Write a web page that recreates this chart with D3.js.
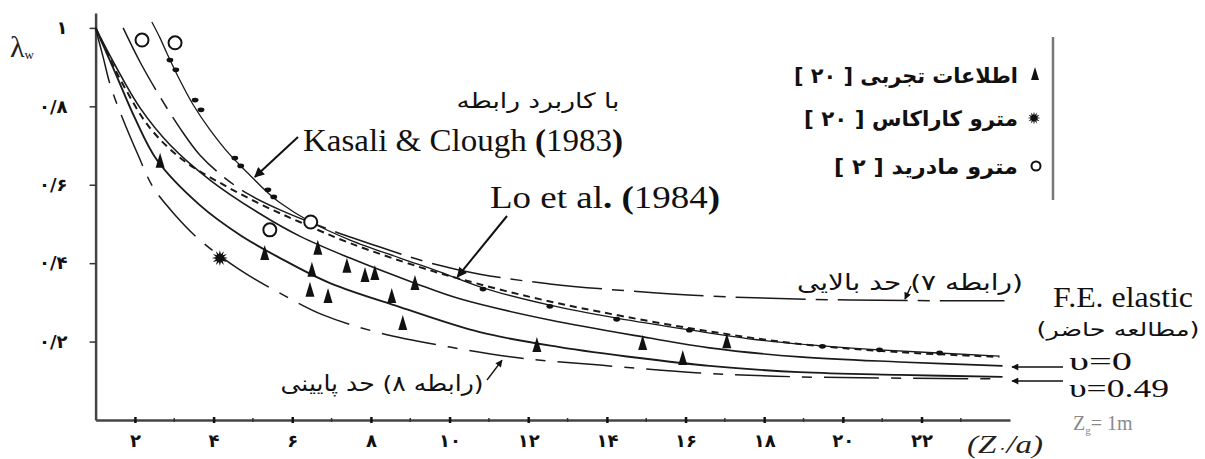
<!DOCTYPE html>
<html>
<head>
<meta charset="utf-8">
<style>
  body { margin: 0; background: #fff; }
  svg { display: block; }
  .fa { font-family: "DejaVu Sans", sans-serif; }
  .en { font-family: "Liberation Serif", "DejaVu Serif", serif; }
</style>
</head>
<body>
<script src="https://cdn.jsdelivr.net/npm/d3@7"></script>
<script>
// ---- values: [Z0/a, lambda] ----
const xTicks = [2, 4, 6, 8, 10, 12, 14, 16, 18, 20, 22];
const xTickLabels = ["۲", "۴", "۶", "۸", "۱۰", "۱۲", "۱۴", "۱۶", "۱۸", "۲۰", "۲۲"];
const yTicks = [0.2, 0.4, 0.6, 0.8, 1];
const yTickLabels = ["۰/۲", "۰/۴", "۰/۶", "۰/۸", "۱"];

// upper bound (relation 7), long dashes
const upperBound = [[1.70, 1.0], [2.13, 0.913], [2.64, 0.824], [3.14, 0.745], [3.65, 0.676],
  [4.29, 0.617], [4.92, 0.574], [5.69, 0.536], [6.96, 0.485], [8.23, 0.441], [9.42, 0.403],
  [10.77, 0.372], [12.55, 0.347], [14.58, 0.329], [16.61, 0.316], [20.17, 0.306], [24.11, 0.304]];
// Kasali & Clough (1983)
const kasali = [[2.43, 1.015], [2.64, 0.974], [2.81, 0.936], [3.14, 0.867], [3.48, 0.804],
  [3.91, 0.740], [4.42, 0.676], [4.92, 0.625], [5.30, 0.587], [5.69, 0.554], [6.47, 0.505],
  [7.47, 0.459], [8.74, 0.413], [9.75, 0.378], [10.85, 0.337], [12.55, 0.293], [14.25, 0.260],
  [16.10, 0.230], [17.88, 0.204], [19.48, 0.189], [20.93, 0.179], [23.98, 0.163]];
const kasaliDots = [[2.89, 0.918], [3.04, 0.893], [3.53, 0.816], [3.68, 0.791], [4.54, 0.668],
  [4.69, 0.648], [5.38, 0.587], [5.53, 0.569], [10.85, 0.334], [12.55, 0.290], [14.25, 0.257],
  [16.10, 0.229], [19.48, 0.188], [20.93, 0.179], [22.46, 0.171]];
// Lo et al. (1984), short dashes
const loEtAl = [[1, 1], [1.32, 0.931], [1.70, 0.855], [2.38, 0.745], [3.22, 0.663], [4.16, 0.605],
  [5.18, 0.551], [6.19, 0.505], [7.47, 0.451], [9.24, 0.390], [10.26, 0.360], [12.04, 0.314],
  [13.82, 0.276], [16.36, 0.230], [18.90, 0.194], [21.44, 0.173], [23.98, 0.161]];
// F.E. elastic, nu = 0
const feNu0 = [[1, 1], [1.49, 0.906], [2.13, 0.796], [2.89, 0.702], [3.91, 0.612], [5.18, 0.526],
  [6.19, 0.469], [7.47, 0.413], [9.12, 0.349], [10.26, 0.309], [12.55, 0.255], [15.09, 0.209],
  [16.61, 0.184], [18.90, 0.161], [21.44, 0.148], [24.06, 0.138]];
// F.E. elastic, nu = 0.49
const feNu049 = [[1, 1], [1.49, 0.888], [2.00, 0.770], [2.56, 0.663], [3.65, 0.548], [4.67, 0.472],
  [5.69, 0.413], [6.96, 0.349], [8.74, 0.288], [10.77, 0.224], [12.80, 0.186], [14.83, 0.158],
  [16.61, 0.138], [18.90, 0.122], [21.44, 0.115], [24.06, 0.110]];
// lower bound (relation 8), long dashes
const lowerBound = [[1.01, 0.995], [1.19, 0.926], [1.37, 0.855], [1.62, 0.786], [2.08, 0.676],
  [2.46, 0.594], [3.02, 0.523], [3.65, 0.459], [4.67, 0.383], [5.86, 0.314], [6.78, 0.268],
  [8.23, 0.222], [10.01, 0.186], [11.79, 0.158], [13.82, 0.140], [16.36, 0.120], [18.90, 0.110],
  [23.98, 0.105]];

// measured points
const testData = [[2.64, 0.656], [5.30, 0.421], [6.65, 0.434], [6.50, 0.378], [6.45, 0.327],
  [6.91, 0.311], [7.39, 0.388], [7.85, 0.365], [8.10, 0.370], [8.53, 0.311], [9.12, 0.344],
  [8.81, 0.242], [12.22, 0.186], [14.91, 0.191], [15.93, 0.153], [17.05, 0.196]];
const caracas = [[4.16, 0.413]];
const madrid = [[2.18, 0.969], [3.02, 0.962], [6.47, 0.505], [5.43, 0.485]];

const legendLabels = ["اطلاعات تجربی [ ۲۰ ]", "مترو کاراکاس [ ۲۰ ]", "مترو مادرید [ ۲ ]"];

// ---- drawing ----
const width = 1205, height = 459;
const svg = d3.select("body").append("svg")
  .attr("width", width).attr("height", height)
  .style("background", "#fff");

const x = d3.scaleLinear().domain([1, 24.25]).range([95.6, 1010]);
const y = d3.scaleLinear().domain([0, 1.038]).range([420, 13]);

const defs = svg.append("defs");
defs.append("marker").attr("id", "head").attr("viewBox", "0 0 10 10")
  .attr("refX", 9).attr("refY", 5).attr("markerUnits", "userSpaceOnUse")
  .attr("markerWidth", 16).attr("markerHeight", 10).attr("orient", "auto")
  .append("path").attr("d", "M0,0 L10,5 L0,10 z").attr("fill", "#111");
defs.append("marker").attr("id", "headSmall").attr("viewBox", "0 0 10 10")
  .attr("refX", 9).attr("refY", 5).attr("markerUnits", "userSpaceOnUse")
  .attr("markerWidth", 12).attr("markerHeight", 7).attr("orient", "auto")
  .append("path").attr("d", "M0,0 L10,5 L0,10 z").attr("fill", "#111");

// axes
const xAxis = d3.axisBottom(x).tickValues(xTicks)
  .tickFormat((d, i) => xTickLabels[i]).tickSize(3).tickSizeOuter(0).tickPadding(11);
const gx = svg.append("g").attr("transform", `translate(0,${y(0)})`).call(xAxis);
gx.select(".domain").attr("stroke", "#444").attr("stroke-width", 2.5);
gx.selectAll(".tick line").attr("y1", -3).attr("y2", 3).attr("stroke", "#111").attr("stroke-width", 2.5);
gx.selectAll(".tick text").attr("class", "fa").attr("font-size", 18).attr("font-weight", "bold").attr("fill", "#111");

const minor = d3.range(3, 25, 2);
svg.append("g").selectAll("line").data(minor).join("line")
  .attr("x1", d => x(d)).attr("x2", d => x(d))
  .attr("y1", y(0) - 2).attr("y2", y(0) + 2)
  .attr("stroke", "#333").attr("stroke-width", 1.5);

const yAxis = d3.axisLeft(y).tickValues(yTicks)
  .tickFormat((d, i) => yTickLabels[i]).tickSize(6).tickSizeOuter(0).tickPadding(22);
const gy = svg.append("g").attr("transform", `translate(${x(1)},0)`).call(yAxis);
gy.select(".domain").attr("stroke", "#444").attr("stroke-width", 2.5);
gy.selectAll(".tick line").attr("stroke", "#333").attr("stroke-width", 1.5);
gy.selectAll(".tick text").attr("class", "fa").attr("font-size", 18).attr("font-weight", "bold").attr("fill", "#111");

// curves
const line = d3.line().x(d => x(d[0])).y(d => y(d[1])).curve(d3.curveCatmullRom.alpha(0.5));
const curves = [
  { data: upperBound, dash: "70,10,12,10", w: 1.5 },
  { data: lowerBound, dash: "55,12,10,12", w: 1.5 },
  { data: kasali, dash: null, w: 1.3 },
  { data: loEtAl, dash: "7,5", w: 2 },
  { data: feNu0, dash: null, w: 1.6 },
  { data: feNu049, dash: null, w: 1.9 }
];
svg.append("g").selectAll("path").data(curves).join("path")
  .attr("d", d => line(d.data))
  .attr("fill", "none").attr("stroke", "#1a1a1a")
  .attr("stroke-width", d => d.w)
  .attr("stroke-dasharray", d => d.dash);

svg.append("g").selectAll("ellipse").data(kasaliDots).join("ellipse")
  .attr("cx", d => x(d[0])).attr("cy", d => y(d[1]))
  .attr("rx", 3.4).attr("ry", 2.4).attr("fill", "#111");

// markers
const tri = "M0,-10 L4.5,5 L-4.5,5 Z";
svg.append("g").selectAll("path").data(testData).join("path")
  .attr("transform", d => `translate(${x(d[0])},${y(d[1])})`)
  .attr("d", tri).attr("fill", "#111");

const burst = d3.lineRadial().curve(d3.curveLinearClosed)(
  d3.range(24).map(i => [i * Math.PI / 12, i % 2 ? 4 : 8]));
svg.append("g").selectAll("path").data(caracas).join("path")
  .attr("transform", d => `translate(${x(d[0])},${y(d[1])})`)
  .attr("d", burst).attr("fill", "#111");

svg.append("g").selectAll("circle").data(madrid).join("circle")
  .attr("cx", d => x(d[0])).attr("cy", d => y(d[1])).attr("r", 6.5)
  .attr("fill", "#fff").attr("stroke", "#111").attr("stroke-width", 2);

// legend
const lg = svg.append("g");
lg.append("line").attr("x1", 1053).attr("x2", 1053).attr("y1", 37).attr("y2", 200)
  .attr("stroke", "#777").attr("stroke-width", 2.5);
const legY = [75, 118, 166];
const legW = [224, 214, 184];
lg.append("path").attr("transform", `translate(1035,${legY[0]})`)
  .attr("d", "M0,-8 L4,5 L-4,5 Z").attr("fill", "#111");
lg.append("path").attr("transform", `translate(1034,${legY[1]}) scale(0.8)`)
  .attr("d", burst).attr("fill", "#111");
lg.append("circle").attr("cx", 1036).attr("cy", legY[2]).attr("r", 4.5)
  .attr("fill", "#fff").attr("stroke", "#111").attr("stroke-width", 2);
lg.selectAll("text").data(legendLabels).join("text")
  .attr("class", "fa").attr("direction", "rtl")
  .attr("x", (d, i) => 1018 - legW[i] / 2).attr("y", (d, i) => legY[i] + 8)
  .attr("text-anchor", "middle").attr("font-size", 21).attr("font-weight", "bold")
  .attr("fill", "#111")
  .attr("textLength", (d, i) => legW[i]).attr("lengthAdjust", "spacingAndGlyphs")
  .text(d => d);

// annotations
const ann = svg.append("g");
function faLabel(txt, cx, base, w, size) {
  return ann.append("text").attr("class", "fa").attr("direction", "rtl")
    .attr("x", cx).attr("y", base).attr("text-anchor", "middle")
    .attr("font-size", size).attr("fill", "#111")
    .attr("textLength", w).attr("lengthAdjust", "spacingAndGlyphs").text(txt);
}
faLabel("با کاربرد رابطه", 538, 108, 163, 21);

const kt = ann.append("text").attr("class", "en").attr("x", 303).attr("y", 151)
  .attr("font-size", 31).attr("fill", "#111")
  .attr("textLength", 320).attr("lengthAdjust", "spacingAndGlyphs");
kt.append("tspan").text("Kasali & Clough ");
kt.append("tspan").attr("font-weight", "bold").text("(");
kt.append("tspan").text("1983");
kt.append("tspan").attr("font-weight", "bold").text(")");

const lt = ann.append("text").attr("class", "en").attr("x", 490).attr("y", 208)
  .attr("font-size", 31).attr("fill", "#111")
  .attr("textLength", 230).attr("lengthAdjust", "spacingAndGlyphs");
lt.append("tspan").text("Lo et al");
lt.append("tspan").attr("font-weight", "bold").text(". (");
lt.append("tspan").text("1984");
lt.append("tspan").attr("font-weight", "bold").text(")");

ann.append("line").attr("x1", 298).attr("y1", 137).attr("x2", x(5.05)).attr("y2", y(0.62))
  .attr("stroke", "#111").attr("stroke-width", 2).attr("marker-end", "url(#head)");
ann.append("line").attr("x1", 507).attr("y1", 216).attr("x2", x(10.2)).attr("y2", y(0.365))
  .attr("stroke", "#111").attr("stroke-width", 2).attr("marker-end", "url(#head)");

faLabel("(رابطه ۷) حد بالایی", 910, 290, 226, 22);
ann.append("line").attr("x1", 911).attr("y1", 286).attr("x2", 905).attr("y2", y(0.306) - 1)
  .attr("stroke", "#111").attr("stroke-width", 1.5).attr("marker-end", "url(#headSmall)");

faLabel("(رابطه ۸) حد پایینی", 382, 391, 203, 22);
ann.append("line").attr("x1", 487).attr("y1", 380).attr("x2", 502).attr("y2", y(0.16) + 3)
  .attr("stroke", "#111").attr("stroke-width", 1.3).attr("marker-end", "url(#headSmall)");

ann.append("text").attr("class", "en").attr("x", 1053).attr("y", 307)
  .attr("font-size", 30).attr("fill", "#111")
  .attr("textLength", 140).attr("lengthAdjust", "spacingAndGlyphs").text("F.E. elastic");
faLabel("(مطالعه حاضر)", 1118, 336, 163, 19);
ann.append("text").attr("class", "en").attr("x", 1069).attr("y", 370)
  .attr("font-size", 25).attr("fill", "#111")
  .attr("textLength", 63).attr("lengthAdjust", "spacingAndGlyphs").text("υ=0");
ann.append("text").attr("class", "en").attr("x", 1069).attr("y", 397)
  .attr("font-size", 25).attr("fill", "#111")
  .attr("textLength", 100).attr("lengthAdjust", "spacingAndGlyphs").text("υ=0.49");
ann.append("line").attr("x1", 1063).attr("y1", 367).attr("x2", 1012).attr("y2", 367)
  .attr("stroke", "#111").attr("stroke-width", 1.5).attr("marker-end", "url(#headSmall)");
ann.append("line").attr("x1", 1063).attr("y1", 381).attr("x2", 1012).attr("y2", 381)
  .attr("stroke", "#111").attr("stroke-width", 1.5).attr("marker-end", "url(#headSmall)");

const zg = ann.append("text").attr("class", "en").attr("x", 1073).attr("y", 430)
  .attr("font-size", 20).attr("fill", "#8a8a8a");
zg.append("tspan").text("Z");
zg.append("tspan").attr("font-size", 11).attr("dy", 4).text("g");
zg.append("tspan").attr("dy", -4).text("= 1m");

const xl = ann.append("text").attr("class", "en").attr("x", 967).attr("y", 453)
  .attr("font-size", 26).attr("font-style", "italic").attr("fill", "#222")
  .attr("textLength", 76).attr("lengthAdjust", "spacingAndGlyphs");
xl.append("tspan").text("(Z");
xl.append("tspan").attr("font-size", 15).text("۰");
xl.append("tspan").text("/a)");

const yl = ann.append("text").attr("class", "en").attr("x", 10).attr("y", 57)
  .attr("font-size", 30).attr("fill", "#222");
yl.append("tspan").text("λ");
yl.append("tspan").attr("font-size", 13).attr("dy", 2).text("w");
</script>
</body>
</html>
